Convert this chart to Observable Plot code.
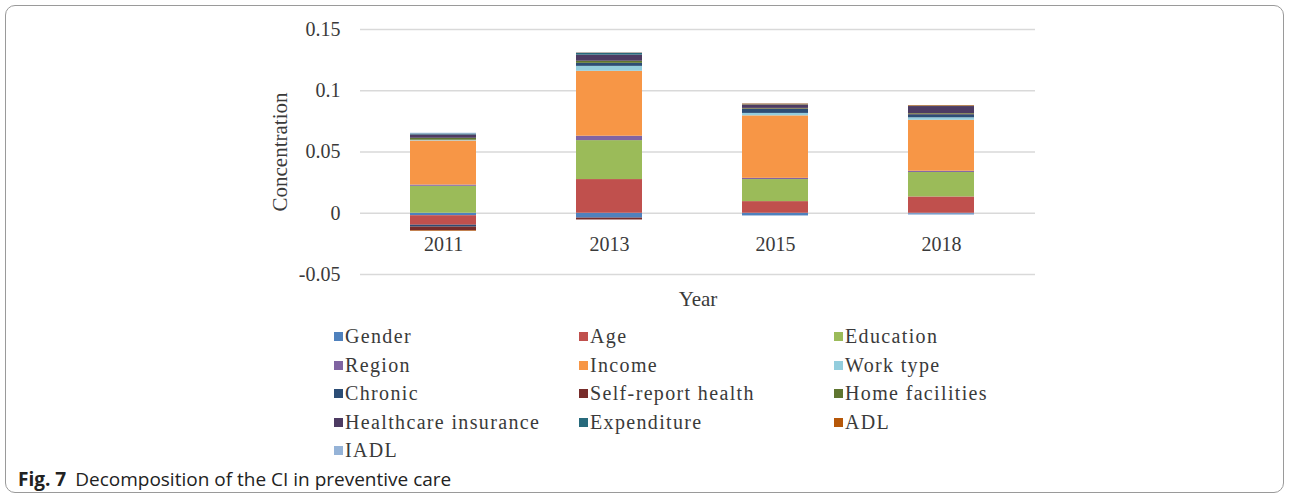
<!DOCTYPE html>
<html>
<head>
<meta charset="utf-8">
<script src="https://cdn.jsdelivr.net/npm/d3@7"></script>
<script src="https://cdn.jsdelivr.net/npm/@observablehq/plot@0.6"></script>
<style>
  html, body { margin: 0; padding: 0; background: #fff; }
  #wrap { position: relative; width: 1290px; height: 499px; overflow: hidden; }
  #frame { position: absolute; left: 5px; top: 5px; width: 1279px; height: 488px; border: 1px solid #9a9a9a; border-radius: 10px; box-sizing: border-box; }
  #chart { position: absolute; left: 0; top: 0; }
  .leg { position: absolute; font-family: "Liberation Serif", "Times New Roman", serif; font-size: 20px; letter-spacing: 1.35px; color: #3a3a3a; white-space: nowrap; line-height: 20px; }
  .leg i { position: absolute; width: 9px; height: 9px; top: 6px; left: -11px; }
  #caption { position: absolute; left: 18px; top: 466px; font-family: "Open Sans", "Noto Sans", sans-serif; font-size: 19px; color: #222; white-space: nowrap; }
  #caption b { font-weight: 700; margin-right: 9px; }
</style>
</head>
<body>
<div id="wrap">
  <div id="frame"></div>
  <div id="chart"></div>
  <div id="legend"></div>
  <div id="caption"><b>Fig. 7</b>Decomposition of the CI in preventive care</div>
</div>
<script>
// Categories
const years = ["2011", "2013", "2015", "2018"];
const factors = ["Gender", "Age", "Education", "Region", "Income", "Work type", "Chronic",
  "Self-report health", "Home facilities", "Healthcare insurance", "Expenditure", "ADL", "IADL"];
const colors = ["#4F81BD", "#C0504D", "#9BBB59", "#8064A2", "#F79646", "#93CDDD", "#2C4D75",
  "#772C2A", "#5F7530", "#4D3B62", "#276A7C", "#B65708", "#95B3D7"];

// Series values (per year: 2011, 2013, 2015, 2018)
const gender      = [-0.0020, -0.0040, -0.0022, -0.0008];
const age         = [-0.0078,  0.0275,  0.0095,  0.0133];
const education   = [ 0.0220,  0.0318,  0.0180,  0.0200];
const region      = [ 0.0010,  0.0036,  0.0010,  0.0010];
const income      = [ 0.0360,  0.0530,  0.0510,  0.0416];
const workType    = [ 0.0006,  0.0040,  0.0020,  0.0020];
const chronic     = [-0.0015,  0.0025,  0.0033,  0.0025];
const selfReport  = [-0.0030, -0.0015,  0.0003,  0.0005];
const homeFac     = [ 0.0016,  0.0017,  0.0005,  0.0005];
const insurance   = [ 0.0027,  0.0050,  0.0025,  0.0057];
const expenditure = [ 0.0008,  0.0014,  0.0004,  0.0003];
const adl         = [-0.0005,  0.0003,  0.0007,  0.0005];
const iadl        = [ 0.0006,  0.0003,  0.0002, -0.0008];

const yTicks = [-0.05, 0, 0.05, 0.1, 0.15];

const series = [gender, age, education, region, income, workType, chronic, selfReport,
  homeFac, insurance, expenditure, adl, iadl];
const data = [];
factors.forEach((f, i) => years.forEach((y, j) => data.push({year: y, factor: f, value: series[i][j]})));

const serif = "'Liberation Serif', 'Times New Roman', serif";

const chart = Plot.plot({
  width: 1290,
  height: 320,
  marginTop: 29,
  marginBottom: 46,
  marginLeft: 360,
  marginRight: 255,
  style: {fontFamily: serif, fontSize: "20px", color: "#3a3a3a", background: "transparent"},
  x: {domain: years, paddingInner: 0.6, paddingOuter: 0.333, align: 0.45, axis: null},
  y: {domain: [-0.05, 0.15], ticks: yTicks, axis: null},
  color: {domain: factors, range: colors},
  marks: [
    Plot.gridY(yTicks, {stroke: "#d9d9d9", strokeOpacity: 1, strokeWidth: 1.3}),
    Plot.barY(data, Plot.stackY({x: "year", y: "value", fill: "factor", order: factors})),
    Plot.axisY(yTicks, {tickSize: 0, tickPadding: 20, label: null, tickFormat: d => String(d), fontSize: 20, fill: "#3a3a3a"}),
    Plot.text(years, {x: d => d, y: () => 0, dy: 31, fontSize: 20, fill: "#3a3a3a"}),
    Plot.text(["Concentration"], {frameAnchor: "left", textAnchor: "middle", lineAnchor: "middle", dx: -80, rotate: -90, fontSize: 21, fill: "#3a3a3a"}),
    Plot.text(["Year"], {frameAnchor: "bottom", textAnchor: "middle", lineAnchor: "middle", dy: 25, fontSize: 21, fill: "#3a3a3a"})
  ]
});
document.getElementById("chart").appendChild(chart);

// Legend (3 columns)
const colX = [345, 590, 845];
const legend = document.getElementById("legend");
factors.forEach((f, i) => {
  const row = Math.floor(i / 3), col = i % 3;
  const d = document.createElement("div");
  d.className = "leg";
  d.style.left = colX[col] + "px";
  d.style.top = (326 + row * 28.6) + "px";
  d.innerHTML = `<i style="background:${colors[i]}"></i>${f}`;
  legend.appendChild(d);
});
</script>
</body>
</html>
